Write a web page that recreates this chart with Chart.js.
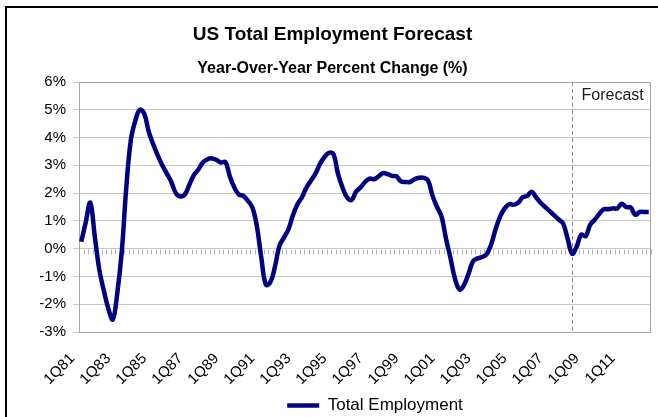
<!DOCTYPE html>
<html>
<head>
<meta charset="utf-8">
<title>US Total Employment Forecast</title>
<script src="https://cdn.jsdelivr.net/npm/chart.js@4.4.1/dist/chart.umd.min.js"></script>
<style>
  html, body { margin: 0; padding: 0; background: #fff; }
</style>
</head>
<body>
<canvas id="empChart" width="658" height="417"></canvas>
<script>
// categories: one per quarter, 1Q81 .. 3Q12
var quarters = [];
for (var yr = 1981; yr <= 2012; yr++) {
    for (var q = 1; q <= 4; q++) {
        if (yr === 2012 && q === 4) break;
        quarters.push(q + 'Q' + String(yr).slice(2));
    }
}

// labels shown on the x axis
var tickLabels = ['1Q81', '1Q83', '1Q85', '1Q87', '1Q89', '1Q91', '1Q93', '1Q95',
    '1Q97', '1Q99', '1Q01', '1Q03', '1Q05', '1Q07', '1Q09', '1Q11'];

// year-over-year % change
var totalEmployment = [
    0.25, 0.95, 1.65, 0.45, -0.75, -1.5, -2.15, -2.55,      // 81-82
    -1.6, -0.1, 2.2, 3.9, 4.6, 5.0, 4.85, 4.2,             // 83-84
    3.75, 3.35, 3.0, 2.7, 2.4, 2.0, 1.88, 1.95,            // 85-86
    2.3, 2.65, 2.85, 3.1, 3.22, 3.25, 3.2, 3.1,            // 87-88
    3.12, 2.6, 2.2, 1.95, 1.9, 1.72, 1.48, 0.8,            // 89-90
    -0.35, -1.3, -1.2, -0.65, 0.1, 0.4, 0.7, 1.2,          // 91-92
    1.6, 1.85, 2.2, 2.45, 2.7, 3.05, 3.3, 3.45,            // 93-94
    3.4, 2.7, 2.2, 1.85, 1.75, 2.05, 2.2, 2.4,             // 95-96
    2.52, 2.5, 2.6, 2.72, 2.68, 2.62, 2.6, 2.42,           // 97-98
    2.4, 2.4, 2.5, 2.55, 2.55, 2.45, 1.9, 1.5,             // 99-00
    1.15, 0.35, -0.35, -1.1, -1.47, -1.3, -0.9, -0.45,     // 01-02
    -0.35, -0.3, -0.2, 0.15, 0.7, 1.15, 1.45, 1.6,         // 03-04
    1.58, 1.65, 1.85, 1.9, 2.05, 1.85, 1.65, 1.5,          // 05-06
    1.35, 1.2, 1.05, 0.9, 0.35, -0.18, 0.08, 0.5,          // 07-08
    0.45, 0.86, 1.04, 1.25, 1.42, 1.42, 1.45, 1.45,        // 09-10
    1.62, 1.5, 1.48, 1.22, 1.32, 1.32, 1.32                // 11-12
];

var forecastStart = '2Q08';

var plotExtras = {
    id: 'plotExtras',
    afterLayout: function(chart) {
        // nudge the legend a bit to the right, like the original
        chart.legend.left += 10;
        chart.legend.right += 10;
    },
    beforeDraw: function(chart) {
        var ctx = chart.ctx;
        ctx.save();
        ctx.fillStyle = '#fff';
        ctx.fillRect(0, 0, chart.width, chart.height);
        ctx.restore();
    },
    beforeDatasetsDraw: function(chart) {
        var ctx = chart.ctx, a = chart.chartArea;
        var xs = chart.scales.x, ys = chart.scales.y;
        var w = a.width / quarters.length;
        var y0 = Math.round(ys.getPixelForValue(0)) + 0.5;
        ctx.save();
        // small quarter ticks under the zero line
        ctx.strokeStyle = '#b4b4b4';
        ctx.lineWidth = 1;
        ctx.beginPath();
        for (var i = 0; i <= quarters.length; i++) {
            var tx = Math.round(a.left + i * w) + 0.5;
            ctx.moveTo(tx, y0);
            ctx.lineTo(tx, y0 + 5);
        }
        ctx.stroke();
        // plot border
        ctx.strokeStyle = '#a6a6a6';
        ctx.strokeRect(Math.round(a.left) + 0.5, Math.round(a.top) + 0.5,
            Math.round(a.width) - 1, Math.round(a.height));
        // forecast divider
        var fx = Math.round(xs.getPixelForValue(quarters.indexOf(forecastStart))) + 0.5;
        ctx.strokeStyle = '#8c8c8c';
        ctx.setLineDash([4, 3]);
        ctx.beginPath();
        ctx.moveTo(fx, a.top);
        ctx.lineTo(fx, a.bottom);
        ctx.stroke();
        ctx.setLineDash([]);
        ctx.fillStyle = '#1a1a1a';
        ctx.font = '16px "Liberation Sans", Arial, sans-serif';
        ctx.textBaseline = 'alphabetic';
        ctx.fillText('Forecast', fx + 9, a.top + 17.5);
        ctx.restore();
    },
    afterDraw: function(chart) {
        var ctx = chart.ctx;
        ctx.save();
        ctx.strokeStyle = '#000';
        ctx.lineWidth = 2;
        ctx.strokeRect(6, 7, 720, 480);
        ctx.restore();
    }
};

var fontFamily = '"Liberation Sans", Arial, sans-serif';

var ctx = document.getElementById('empChart').getContext('2d');
var empChart = new Chart(ctx, {
    type: 'line',
    data: {
        labels: quarters,
        datasets: [{
            label: 'Total Employment',
            data: totalEmployment,
            borderColor: '#000080',
            backgroundColor: '#000080',
            borderWidth: 4.5,
            pointRadius: 0,
            tension: 0.4,
            fill: false
        }]
    },
    options: {
        responsive: false,
        devicePixelRatio: 1,
        animation: false,
        layout: { padding: { left: 14, right: 7, top: 0, bottom: -7 } },
        scales: {
            x: {
                type: 'category',
                offset: true,
                grid: { display: false, drawTicks: false },
                border: { display: false },
                ticks: {
                    autoSkip: false,
                    minRotation: 45,
                    maxRotation: 45,
                    padding: 9,
                    color: '#000',
                    font: { family: fontFamily, size: 15 },
                    callback: function(val) {
                        var lab = this.getLabelForValue(val);
                        // trailing spaces pull the rotated text down-left of its tick
                        return tickLabels.indexOf(lab) >= 0 ? lab + '   ' : '';
                    }
                },
                afterFit: function(scale) {
                    scale.height = 61;
                    scale.paddingLeft = 0;
                    scale.paddingRight = 0;
                }
            },
            y: {
                min: -3,
                max: 6,
                grid: { color: '#c8c8c8', tickLength: 6 },
                border: { display: false },
                ticks: {
                    stepSize: 1,
                    padding: 7,
                    color: '#000',
                    font: { family: fontFamily, size: 15 },
                    callback: function(v) { return v + '%'; }
                },
                afterFit: function(scale) { scale.width = 65; }
            }
        },
        plugins: {
            title: {
                display: true,
                text: 'US Total Employment Forecast',
                color: '#000',
                font: { family: fontFamily, size: 19, weight: 'bold' },
                padding: { top: 23, bottom: 0 }
            },
            subtitle: {
                display: true,
                text: 'Year-Over-Year Percent Change (%)',
                color: '#000',
                font: { family: fontFamily, size: 16, weight: 'bold' },
                padding: { top: 12.9, bottom: 4.1 }
            },
            legend: {
                position: 'bottom',
                fullSize: false,
                labels: {
                    usePointStyle: true,
                    pointStyle: 'line',
                    pointStyleWidth: 32,
                    padding: 4,
                    color: '#000',
                    font: { family: fontFamily, size: 17 }
                }
            },
            tooltip: { enabled: false }
        }
    },
    plugins: [plotExtras]
});
</script>
</body>
</html>
